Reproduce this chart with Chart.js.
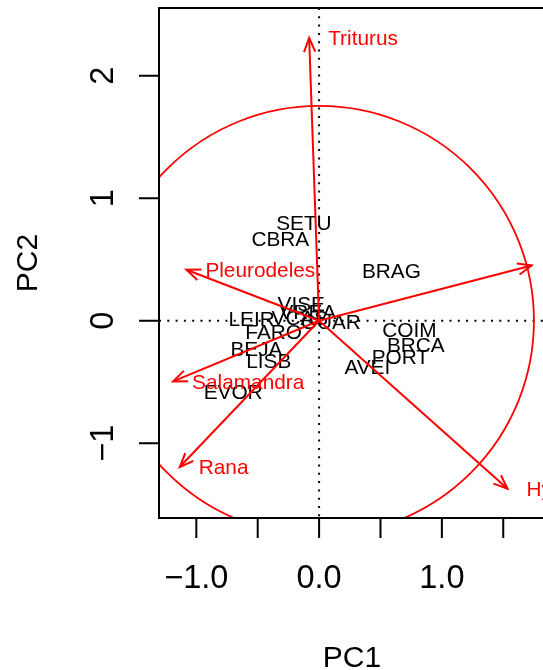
<!DOCTYPE html>
<html>
<head>
<meta charset="utf-8">
<script src="https://cdn.jsdelivr.net/npm/chart.js@4.4.1/dist/chart.umd.min.js"></script>
<style>
html, body { margin: 0; padding: 0; overflow: hidden; background: #fff; }
#biplot { display: block; }
</style>
</head>
<body>
<canvas id="biplot" width="548" height="670"></canvas>
<script>
/**************************************Data**************************************/
// observations (districts), scores on PC1 / PC2
const obsLabels = ['SETU', 'CBRA', 'BRAG', 'VISE', 'VREA', 'LEIR', 'VCAS', 'GUAR', 'FARO', 'BEJA', 'LISB', 'EVOR', 'COIM', 'BRCA', 'PORT', 'AVEI'];
const obsX = [-0.124, -0.316, 0.589, -0.145, -0.092, -0.55, -0.157, 0.095, -0.37, -0.51, -0.41, -0.70, 0.735, 0.788, 0.662, 0.393];
const obsY = [0.800, 0.669, 0.408, 0.139, 0.073, 0.016, 0.024, -0.008, -0.09, -0.229, -0.327, -0.58, -0.073, -0.196, -0.294, -0.376];

// variables (species), arrow tips
const varLabels = ['Triturus', 'Pleurodeles', 'Salamandra', 'Rana', 'Hyla', 'Bufo'];
const varX = [-0.081, -1.081, -1.189, -1.135, 1.535, 1.731];
const varY = [2.308, 0.416, -0.495, -1.194, -1.371, 0.451];

// axis ticks
const xTicks = [-1.0, -0.5, 0.0, 0.5, 1.0, 1.5];
const xTickLabels = ['\u22121.0', '', '0.0', '', '1.0', ''];
const yTicks = [-1, 0, 1, 2];
const yTickLabels = ['\u22121', '0', '1', '2'];

const circleRadius = 1.75;

/**************************************Styles**************************************/
const RED = '#FF0000';
const FONT = '"Liberation Sans", Arial, Helvetica, sans-serif';
const labelSize = 20.8;
const tickSize = 32.5;
const titleSize = 30;

/**************************************Plugin: biplot decorations**************************************/
const textCentered = (ctx, txt, x, y, size) => {
    ctx.font = size + 'px ' + FONT;
    ctx.textAlign = 'center';
    ctx.textBaseline = 'alphabetic';
    ctx.fillText(txt, x, y + 0.358 * size);
};

const biplotDecor = {
    id: 'biplotDecor',
    beforeDatasetsDraw(chart) {
        const ctx = chart.ctx;
        const a = chart.chartArea;
        const xs = chart.scales.x, ys = chart.scales.y;
        const ox = xs.getPixelForValue(0), oy = ys.getPixelForValue(0);
        ctx.save();
        ctx.beginPath();
        ctx.rect(a.left, a.top, a.right - a.left, a.bottom - a.top);
        ctx.clip();
        // observation labels
        ctx.fillStyle = '#000';
        for (let i = 0; i < obsLabels.length; i++) {
            textCentered(ctx, obsLabels[i], xs.getPixelForValue(obsX[i]), ys.getPixelForValue(obsY[i]), labelSize);
        }
        // dotted zero lines
        ctx.strokeStyle = '#000';
        ctx.lineWidth = 2;
        ctx.setLineDash([2, 6.3]);
        ctx.beginPath();
        ctx.moveTo(ox, a.top);
        ctx.lineTo(ox, a.bottom);
        ctx.moveTo(a.left, oy);
        ctx.lineTo(a.right, oy);
        ctx.stroke();
        ctx.setLineDash([]);
        // circle
        const r = xs.getPixelForValue(circleRadius) - ox;
        ctx.strokeStyle = RED;
        ctx.lineWidth = 1.8;
        ctx.beginPath();
        ctx.arc(ox, oy, r, 0, Math.PI * 2);
        ctx.stroke();
        ctx.restore();
    },
    afterDatasetsDraw(chart) {
        const ctx = chart.ctx;
        const a = chart.chartArea;
        const xs = chart.scales.x, ys = chart.scales.y;
        const ox = xs.getPixelForValue(0), oy = ys.getPixelForValue(0);
        ctx.save();
        ctx.beginPath();
        ctx.rect(a.left, a.top, a.right - a.left, a.bottom - a.top);
        ctx.clip();
        // arrow heads + species labels
        ctx.strokeStyle = RED;
        ctx.fillStyle = RED;
        ctx.lineWidth = 2;
        const len = 15, th = 22 * Math.PI / 180;
        for (let i = 0; i < varLabels.length; i++) {
            const px = xs.getPixelForValue(varX[i]), py = ys.getPixelForValue(varY[i]);
            const ang = Math.atan2(py - oy, px - ox);
            ctx.beginPath();
            ctx.moveTo(px - len * Math.cos(ang - th), py - len * Math.sin(ang - th));
            ctx.lineTo(px, py);
            ctx.lineTo(px - len * Math.cos(ang + th), py - len * Math.sin(ang + th));
            ctx.stroke();
            ctx.font = labelSize + 'px ' + FONT;
            ctx.textAlign = 'left';
            ctx.textBaseline = 'alphabetic';
            ctx.fillText(varLabels[i], px + 19, py + 0.358 * labelSize);
        }
        ctx.restore();

        ctx.save();
        // box
        ctx.strokeStyle = '#000';
        ctx.lineWidth = 2;
        ctx.strokeRect(a.left, a.top, a.right - a.left, a.bottom - a.top);
        // x ticks
        ctx.beginPath();
        xTicks.forEach((v) => {
            const px = xs.getPixelForValue(v);
            ctx.moveTo(px, a.bottom);
            ctx.lineTo(px, a.bottom + 20);
        });
        // y ticks
        yTicks.forEach((v) => {
            const py = ys.getPixelForValue(v);
            ctx.moveTo(a.left, py);
            ctx.lineTo(a.left - 20, py);
        });
        ctx.stroke();
        ctx.fillStyle = '#000';
        xTicks.forEach((v, i) => {
            if (xTickLabels[i]) textCentered(ctx, xTickLabels[i], xs.getPixelForValue(v), a.bottom + 58.5, tickSize);
        });
        yTicks.forEach((v, i) => {
            ctx.save();
            ctx.translate(a.left - 58, ys.getPixelForValue(v));
            ctx.rotate(-Math.PI / 2);
            textCentered(ctx, yTickLabels[i], 0, 0, tickSize);
            ctx.restore();
        });
        // axis titles
        textCentered(ctx, 'PC1', (a.left + a.right) / 2, a.bottom + 138, titleSize);
        ctx.save();
        ctx.translate(26, (a.top + a.bottom) / 2);
        ctx.rotate(-Math.PI / 2);
        textCentered(ctx, 'PC2', 0, 0, titleSize);
        ctx.restore();
        ctx.restore();
    }
};

/**************************************Datasets**************************************/
let datasets = [];
for (let i = 0; i < varLabels.length; i++) {
    datasets.push({
        type: 'line',
        data: [{x: 0, y: 0}, {x: varX[i], y: varY[i]}],
        borderColor: RED,
        borderWidth: 2,
        pointRadius: 0,
        fill: false
    });
}
datasets.push({
    type: 'scatter',
    data: obsX.map((x, i) => ({x: x, y: obsY[i]})),
    pointRadius: 0
});

/**************************************Draw chart**************************************/
let ctxB = document.getElementById('biplot');
let biplot = new Chart(ctxB, {
    type: 'scatter',
    data: { datasets: datasets },
    options: {
        responsive: false,
        animation: false,
        devicePixelRatio: 1,
        layout: { padding: { left: 159, top: 8, right: 3, bottom: 152 } },
        plugins: { legend: { display: false }, tooltip: { enabled: false } },
        scales: {
            x: { type: 'linear', min: -1.304, max: 1.84, display: false },
            y: { type: 'linear', min: -1.61, max: 2.553, display: false }
        }
    },
    plugins: [biplotDecor]
});
</script>
</body>
</html>
